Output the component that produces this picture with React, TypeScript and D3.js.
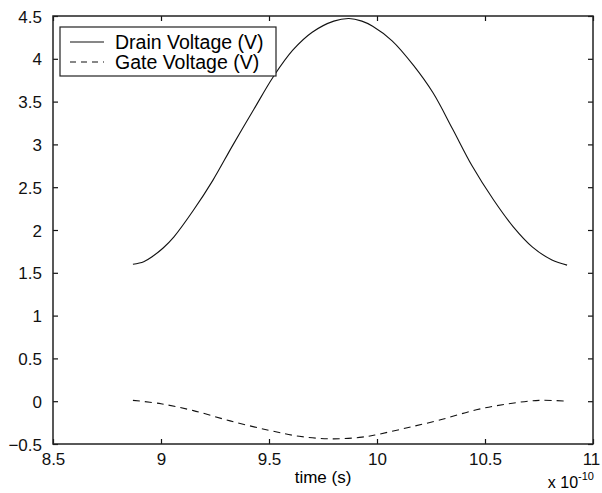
import React, { useEffect, useRef } from "react";
import * as d3 from "d3";

// time values in units of 1e-10 s
const drainTime = [8.87, 8.92, 8.96, 9.01, 9.06, 9.15, 9.24, 9.33, 9.43, 9.52, 9.61, 9.7, 9.8, 9.87, 9.93, 9.98, 10.07, 10.17, 10.26, 10.35, 10.44, 10.54, 10.63, 10.72, 10.81, 10.88];
const drainVolts = [1.6, 1.63, 1.69, 1.79, 1.92, 2.23, 2.58, 2.98, 3.41, 3.79, 4.1, 4.31, 4.44, 4.47, 4.44, 4.38, 4.21, 3.92, 3.6, 3.18, 2.75, 2.35, 2.04, 1.8, 1.65, 1.59];

const gateTime = [8.87, 9.0, 9.15, 9.32, 9.5, 9.64, 9.79, 9.93, 10.0, 10.14, 10.29, 10.46, 10.61, 10.75, 10.88];
const gateVolts = [0.01, -0.03, -0.11, -0.23, -0.34, -0.41, -0.44, -0.42, -0.39, -0.31, -0.22, -0.1, -0.03, 0.01, 0.0];

const xTicks = [8.5, 9, 9.5, 10, 10.5, 11];
const yTicks = [-0.5, 0, 0.5, 1, 1.5, 2, 2.5, 3, 3.5, 4, 4.5];

const seriesNames = ["Drain Voltage (V)", "Gate Voltage (V)"];

const FONT = "'Liberation Sans', Arial, Helvetica, sans-serif";

export default function App() {
  const ref = useRef<SVGSVGElement>(null);

  useEffect(() => {
    const svg = d3.select(ref.current);
    svg.selectAll("*").remove();

    const margin = { top: 16, right: 9, bottom: 49, left: 53 };
    const width = 602 - margin.left - margin.right;
    const height = 493 - margin.top - margin.bottom;

    const x = d3.scaleLinear().domain([8.5, 11]).range([0, width]);
    const y = d3.scaleLinear().domain([-0.5, 4.5]).range([height, 0]);

    const g = svg.append("g")
      .attr("transform", "translate(" + margin.left + "," + margin.top + ")");

    const tickLen = 5;

    // inner ticks on all four sides, matlab style
    const xa = g.append("g")
      .attr("transform", "translate(0," + height + ")")
      .call(d3.axisBottom(x).tickValues(xTicks).tickSizeInner(-tickLen).tickSizeOuter(0).tickPadding(9).tickFormat(d3.format("")));
    const xt = g.append("g")
      .call(d3.axisTop(x).tickValues(xTicks).tickSizeInner(-tickLen).tickSizeOuter(0).tickFormat(() => ""));
    const ya = g.append("g")
      .call(d3.axisLeft(y).tickValues(yTicks).tickSizeInner(-tickLen).tickSizeOuter(0).tickPadding(11).tickFormat(d3.format("")));
    const yr = g.append("g")
      .attr("transform", "translate(" + width + ",0)")
      .call(d3.axisRight(y).tickValues(yTicks).tickSizeInner(-tickLen).tickSizeOuter(0).tickFormat(() => ""));

    [xa, xt, ya, yr].forEach((a) => {
      a.select(".domain").remove();
      a.selectAll("line").attr("stroke", "#111").attr("stroke-width", 1.2);
      a.selectAll("text").attr("font-family", FONT).attr("font-size", 17).attr("fill", "#111");
    });
    ya.selectAll("text").attr("dy", "0.36em");
    xa.selectAll("text").attr("dy", "0.72em");
    // keep the last x label inside the page
    xa.selectAll("text").filter((d) => d === 11).attr("x", -2);

    // frame
    g.append("rect")
      .attr("width", width)
      .attr("height", height)
      .attr("fill", "none")
      .attr("stroke", "#222")
      .attr("stroke-width", 1.5);

    const drain = drainTime.map((t, i) => [t, drainVolts[i]] as [number, number]);
    const gate = gateTime.map((t, i) => [t, gateVolts[i]] as [number, number]);

    const line = d3.line<[number, number]>()
      .x((d) => x(d[0]))
      .y((d) => y(d[1]))
      .curve(d3.curveCatmullRom.alpha(0.5));

    g.append("path")
      .datum(drain)
      .attr("d", line)
      .attr("fill", "none")
      .attr("stroke", "#111")
      .attr("stroke-width", 1.1);

    g.append("path")
      .datum(gate)
      .attr("d", line)
      .attr("fill", "none")
      .attr("stroke", "#111")
      .attr("stroke-width", 1.1)
      .attr("stroke-dasharray", "7,5");

    // axis labels
    g.append("text")
      .attr("x", width / 2)
      .attr("y", height + 39)
      .attr("text-anchor", "middle")
      .attr("font-family", FONT)
      .attr("font-size", 17)
      .text("time (s)");

    const expo = g.append("text")
      .attr("x", width + 1)
      .attr("y", height + 44)
      .attr("text-anchor", "end")
      .attr("font-family", FONT)
      .attr("font-size", 16);
    expo.append("tspan").text("x 10");
    expo.append("tspan").attr("dy", -8).attr("font-size", 11).text("-10");

    // legend
    const legend = g.append("g").attr("transform", "translate(7,11)");
    legend.append("rect")
      .attr("width", 216)
      .attr("height", 49)
      .attr("fill", "white")
      .attr("stroke", "#222")
      .attr("stroke-width", 1.2);

    seriesNames.forEach((name, i) => {
      const row = legend.append("g").attr("transform", "translate(0," + (15 + i * 20) + ")");
      row.append("line")
        .attr("x1", 10).attr("x2", 44)
        .attr("stroke", "#111")
        .attr("stroke-width", 1.1)
        .attr("stroke-dasharray", i === 1 ? "6,5" : null);
      row.append("text")
        .attr("x", 55)
        .attr("dy", "0.35em")
        .attr("font-family", FONT)
        .attr("font-size", 19.5)
        .text(name);
    });
  }, []);

  return (
    <svg
      ref={ref}
      width={602}
      height={493}
      style={{ position: "absolute", left: 0, top: 0, background: "white" }}
    />
  );
}
